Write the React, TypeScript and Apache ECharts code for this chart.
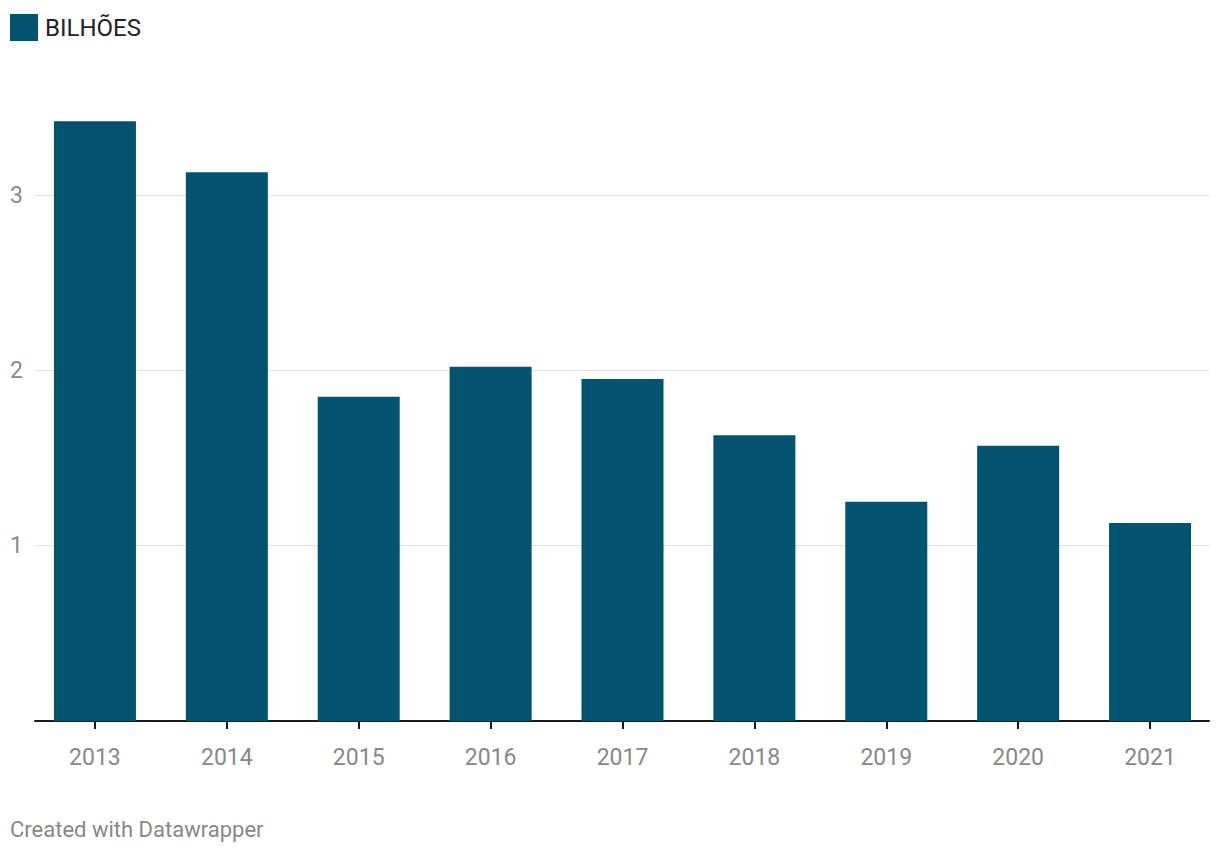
import React, { useEffect, useRef } from "react";
import * as echarts from "echarts";

const categories = ["2013", "2014", "2015", "2016", "2017", "2018", "2019", "2020", "2021"];
const values = [3.42, 3.13, 1.85, 2.02, 1.95, 1.63, 1.25, 1.57, 1.13];
const seriesName = "BILHÕES";
const yTicks = [1, 2, 3];

const BAR = "#01536f";
const FONT = "Roboto, 'Noto Sans', sans-serif";

export default function App() {
  const ref = useRef<HTMLDivElement>(null);
  useEffect(() => {
    if (!ref.current) return;
    const chart = echarts.init(ref.current, undefined, { renderer: "svg" });
    const unit = 175.33;
    const zeroY = 721;
    const bottom = 856 - zeroY;
    chart.setOption({
      animation: false,
      textStyle: { fontFamily: FONT },
      legend: {
        left: 10,
        top: 14,
        padding: 0,
        itemWidth: 28,
        itemHeight: 27,
        icon: "rect",
        selectedMode: false,
        textStyle: { fontSize: 24, color: "#222", fontFamily: FONT, padding: [0, 0, 0, 2] },
        data: [seriesName],
      },
      grid: [
        { left: 35, right: 11, top: zeroY - 3 * unit, bottom, containLabel: false },
        { left: 29, right: 4, top: zeroY - 3.5 * unit, bottom, containLabel: false },
      ],
      xAxis: [
        {
          gridIndex: 0,
          type: "category",
          data: categories,
          axisLine: { show: true, lineStyle: { color: "#1a1a1a", width: 2 } },
          axisTick: { show: false },
          axisLabel: { show: false },
        },
        {
          gridIndex: 1,
          type: "category",
          data: categories,
          axisLine: { show: false },
          axisTick: { show: true, alignWithLabel: true, length: 8, lineStyle: { color: "#1a1a1a", width: 2 } },
          axisLabel: { show: true, color: "#888", fontSize: 23, margin: 25, fontFamily: FONT },
        },
      ],
      yAxis: [
        {
          gridIndex: 0,
          type: "value",
          min: 0,
          max: 3,
          interval: 1,
          axisLine: { show: false },
          axisTick: { show: false },
          splitLine: { show: true, lineStyle: { color: "#e2e2e2", width: 1 } },
          axisLabel: {
            show: true,
            color: "#8a8a8a",
            fontSize: 23,
            fontFamily: FONT,
            align: "left",
            margin: 25,
            formatter: (v: number) => (yTicks.includes(v) ? String(v) : ""),
          },
        },
        {
          gridIndex: 1,
          type: "value",
          min: 0,
          max: 3.5,
          show: false,
          splitLine: { show: false },
        },
      ],
      series: [
        {
          name: seriesName,
          type: "bar",
          xAxisIndex: 1,
          yAxisIndex: 1,
          data: values,
          barWidth: 82,
          itemStyle: { color: BAR },
          z: 3,
        },
      ],
      graphic: [
        {
          type: "text",
          left: 10,
          top: 818,
          style: { text: "Created with Datawrapper", fill: "#888", fontSize: 22, fontFamily: FONT },
        },
      ],
    });
    return () => chart.dispose();
  }, []);
  return (
    <div
      ref={ref}
      style={{ position: "fixed", left: 0, top: 0, width: 1220, height: 856, background: "#fff" }}
    />
  );
}
